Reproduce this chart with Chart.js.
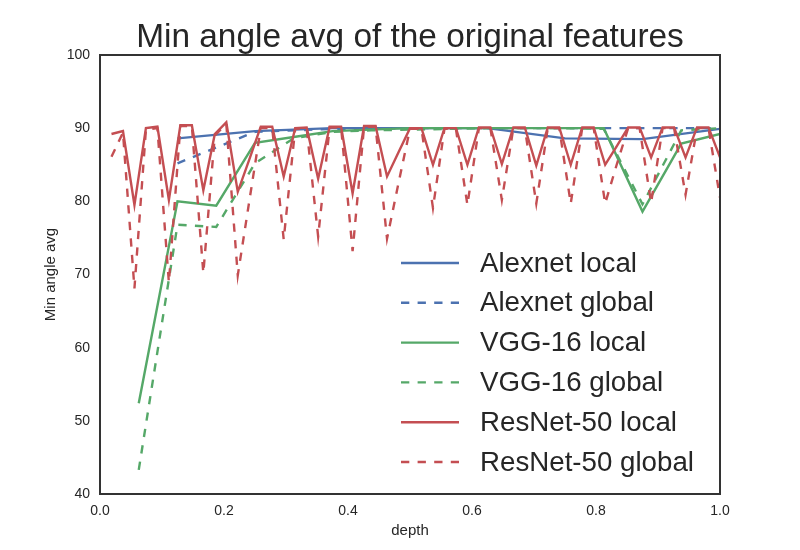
<!DOCTYPE html>
<html>
<head>
<meta charset="utf-8">
<script src="https://cdn.jsdelivr.net/npm/chart.js@4.4.0/dist/chart.umd.min.js"></script>
<style>
  html, body { margin: 0; padding: 0; background: #fff; }
  canvas { display: block; }
</style>
</head>
<body>
<canvas id="grafico" width="800" height="550"></canvas>
<script>
// min angle avg per layer
const alexLocal  = [88.6, 89.6, 90.0, 90.0, 90.0, 88.6, 88.5, 89.9]
const alexGlobal = [85.2, 89.5, 89.9, 90.0, 90.0, 90.0, 90.0, 90.0]

const vggLocal  = [52.4, 80.0, 79.4, 88.0, 88.8, 89.6, 89.8, 90.0, 90.0, 90.0, 90.0, 90.0, 90.0, 78.6, 87.9, 89.2]
const vggGlobal = [43.3, 76.8, 76.5, 85.2, 88.6, 89.5, 89.7, 89.8, 89.9, 90.0, 90.0, 90.0, 89.9, 79.6, 89.7, 90.0]

const resLocal = [
  89.2, 89.6, 79.5, 90.0, 90.2, 80.2, 90.4, 90.4, 81.5, 89.2,
  90.8, 81.3, 85.7, 90.2, 90.2, 83.4, 90.0, 90.1, 83.1, 90.2,
  90.2, 81.1, 90.3, 90.3, 83.4, 86.7, 90.0, 90.0, 85.0, 90.0,
  90.0, 85.0, 90.1, 90.1, 85.1, 90.1, 90.1, 84.9, 90.1, 90.1,
  85.0, 90.1, 90.1, 85.0, 87.5, 90.1, 90.1, 86.0, 90.1, 90.1,
  86.0, 90.1, 90.1, 86.0
]
const resGlobal = [
  86.1, 89.4, 68.1, 89.8, 90.0, 68.9, 90.3, 90.3, 70.2, 89.0,
  90.6, 69.9, 80.0, 90.0, 90.0, 74.8, 89.9, 90.0, 75.2, 90.1,
  90.1, 73.2, 90.2, 90.2, 74.9, 82.5, 89.9, 89.9, 79.1, 89.9,
  89.9, 79.5, 90.0, 90.0, 80.2, 90.0, 90.0, 79.7, 90.0, 90.0,
  79.7, 90.0, 90.0, 79.7, 85.0, 90.0, 90.0, 79.8, 90.0, 90.0,
  80.9, 90.0, 90.0, 80.5
]

const xTicks = [0.0, 0.2, 0.4, 0.6, 0.8, 1.0]
const yTicks = [40, 50, 60, 70, 80, 90, 100]

const azul = '#4C72B0', verde = '#55A868', vermelho = '#C44E52'
const tracejado = [8.3, 8.3]

// depth = layer number / number of layers
const pontos = (valores) => valores.map((v, i) => ({ x: (i + 1) / valores.length, y: v }))

const serie = (label, valores, cor, dash, ordem) => ({
  label: label,
  data: pontos(valores),
  borderColor: cor,
  backgroundColor: cor,
  borderWidth: 2.4,
  borderDash: dash,
  pointRadius: 0,
  tension: 0,
  fill: false,
  order: ordem
})

const fonte = 'Liberation Sans, Arial, sans-serif'
Chart.defaults.font.family = fonte
Chart.defaults.color = '#262626'

// frame round the plot + legend sitting inside the axes, like matplotlib
const molduraLegenda = {
  id: 'molduraLegenda',
  afterDatasetsDraw(chart) {
    const { ctx, chartArea: a } = chart
    ctx.save()
    ctx.strokeStyle = '#333333'
    ctx.lineWidth = 2
    ctx.setLineDash([])
    ctx.strokeRect(a.left, a.top, a.right - a.left, a.bottom - a.top)

    const x0 = a.left + 301, y0 = a.top + 208
    chart.data.datasets.forEach((ds, i) => {
      const y = y0 + i * 39.8
      ctx.beginPath()
      ctx.setLineDash(ds.borderDash || [])
      ctx.strokeStyle = ds.borderColor
      ctx.lineWidth = 2.4
      ctx.moveTo(x0, y)
      ctx.lineTo(x0 + 58, y)
      ctx.stroke()
      ctx.setLineDash([])
      ctx.fillStyle = '#262626'
      ctx.font = '27.7px ' + fonte
      ctx.textBaseline = 'middle'
      ctx.textAlign = 'left'
      ctx.fillText(ds.label, x0 + 79, y + 1)
    })
    ctx.restore()
  }
}

const ctx = document.getElementById('grafico')

let grafico = new Chart(ctx, {
  type: 'line',
  data: {
    datasets: [
      serie('Alexnet local', alexLocal, azul, [], 6),
      serie('Alexnet global', alexGlobal, azul, tracejado, 5),
      serie('VGG-16 local', vggLocal, verde, [], 4),
      serie('VGG-16 global', vggGlobal, verde, tracejado, 3),
      serie('ResNet-50 local', resLocal, vermelho, [], 2),
      serie('ResNet-50 global', resGlobal, vermelho, tracejado, 1)
    ]
  },
  options: {
    responsive: false,
    animation: false,
    devicePixelRatio: 1,
    layout: { padding: { left: 0, right: 80, top: 0, bottom: 0 } },
    plugins: {
      legend: { display: false },
      tooltip: { enabled: false },
      title: {
        display: true,
        fullSize: false,
        text: 'Min angle avg of the original features',
        color: '#262626',
        font: { size: 33.4, weight: 'normal', lineHeight: 1 },
        padding: { top: 21, bottom: 0.6 }
      }
    },
    scales: {
      x: {
        type: 'linear',
        min: 0,
        max: 1,
        afterFit: (s) => { s.height = 56 },
        afterBuildTicks: (s) => { s.ticks = xTicks.map(v => ({ value: v })) },
        grid: { display: false, drawTicks: false },
        border: { display: false },
        ticks: {
          padding: 9,
          font: { size: 14 },
          color: '#262626',
          maxRotation: 0,
          callback: (v) => v.toFixed(1)
        },
        title: {
          display: true,
          text: 'depth',
          color: '#262626',
          font: { size: 15 },
          padding: { top: 0, bottom: 10 }
        }
      },
      y: {
        min: 40,
        max: 100,
        afterFit: (s) => { s.width = 100 },
        afterBuildTicks: (s) => { s.ticks = yTicks.map(v => ({ value: v })) },
        grid: { display: false, drawTicks: false },
        border: { display: false },
        ticks: {
          padding: 10,
          font: { size: 14 },
          color: '#262626'
        },
        title: {
          display: true,
          text: 'Min angle avg',
          color: '#262626',
          font: { size: 15 },
          padding: { top: 42, bottom: 0 }
        }
      }
    }
  },
  plugins: [molduraLegenda]
})
</script>
</body>
</html>
